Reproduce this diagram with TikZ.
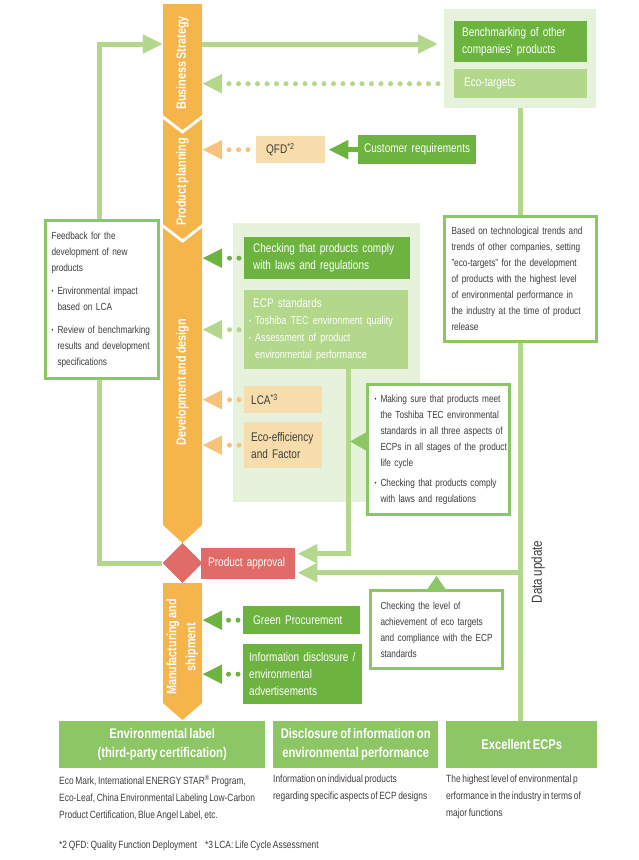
\documentclass[tikz,border=0pt]{standalone}
\usepackage{fontspec}
\setmainfont{Liberation Sans}[FakeStretch=0.8, WordSpace=0.72]
\usepackage{xcolor}
\usetikzlibrary{arrows.meta,shapes.geometric}

\definecolor{colorange}{HTML}{F5B54B}
\definecolor{dkgreen}{HTML}{6DB33F}
\definecolor{mdgreen}{HTML}{8DC665}
\definecolor{ltgreen}{HTML}{B3D78B}
\definecolor{bggreen}{HTML}{E6F2DC}
\definecolor{beige}{HTML}{F7DDAB}
\definecolor{ltorange}{HTML}{F8C27A}
\definecolor{apred}{HTML}{E06B68}
\definecolor{txtgray}{HTML}{3D3D3D}

\newcommand\smallfs{\fontsize{10.3pt}{16pt}\selectfont}
\newcommand\descfs{\fontsize{10.5pt}{17pt}\selectfont}
\newcommand\boxfs{\fontsize{12.5pt}{17pt}\selectfont}
\newcommand\ecpfs{\fontsize{11.3pt}{17pt}\selectfont}
\newcommand\colfs{\fontsize{13.5pt}{19pt}\selectfont\bfseries}
\newcommand\ttlfs{\fontsize{14pt}{19pt}\selectfont\bfseries}
\newcommand\bul{\makebox[6pt][l]{\raisebox{1pt}{\fontsize{7pt}{7pt}\selectfont\textbullet}}}
\newcommand\ind{\hspace*{6pt}}

\begin{document}
\begin{tikzpicture}[x=1pt, y=-1pt,
  bigtip/.style={-{Triangle[length=20pt,width=18pt]}},
  link/.style={draw=ltgreen, line width=5pt},
  flow/.style={link, bigtip},
  dotflow/.style={line width=5pt, line cap=round, dash pattern=on 0pt off 9.5pt, bigtip},
  box/.style={anchor=north west, inner xsep=8pt, inner ysep=0pt, align=left, font=\boxfs, text=white,
    execute at begin node={\rightskip=-20pt plus 1fil\relax}},
  dkbox/.style={box, fill=dkgreen},
  ltbox/.style={box, fill=ltgreen},
  bgbox/.style={box, fill=beige, text=txtgray},
  notebox/.style={box, draw=mdgreen, line width=3pt, fill=white, inner xsep=7pt, font=\smallfs, text=txtgray},
  area/.style={anchor=north west, fill=bggreen, inner sep=0pt},
  seg/.style={minimum width=39pt, inner sep=0pt},
  coltext/.style={rotate=90, text=white, font=\colfs, align=center},
  ttlbox/.style={anchor=north west, fill=mdgreen, text=white, font=\ttlfs, align=center, inner sep=0pt, minimum height=47pt},
  desctext/.style={anchor=north west, inner sep=0pt, align=left, font=\descfs, text=txtgray}]
\useasboundingbox (0,0) rectangle (638,860);

\fill[colorange] (163,4) -- (202,4) -- (202,115) -- (182.5,130) -- (163,115) -- cycle;
\fill[colorange] (163,119) -- (182.5,134) -- (202,119) -- (202,224) -- (182.5,239) -- (163,224) -- cycle;
\fill[colorange] (163,228) -- (182.5,243) -- (202,228) -- (202,525) -- (182.5,543) -- (163,525) -- cycle;
\fill[colorange] (163,583) -- (202,583) -- (202,703) -- (182.5,720) -- (163,703) -- cycle;
\node[seg, minimum height=111pt] (bs) at (182.5,59.5) {};
\node[seg, minimum height=105pt] (pp) at (182.5,171.5) {};
\node[seg, minimum height=297pt] (dd) at (182.5,376.5) {};
\node[seg, minimum height=120pt] (ms) at (182.5,643) {};
\node[coltext] (bsT) at (182.5,63) {Business Strategy};
\node[coltext] (ppT) at (182.5,182) {Product planning};
\node[coltext] (ddT) at (182.5,382) {Development and design};
\node[coltext] (msT) at (182.5,647) {Manufacturing and\\shipment};
\node[diamond, fill=apred, minimum width=40pt, minimum height=40pt, inner sep=0pt] (appr) at (182.5,563) {};
\node[box, fill=apred, minimum width=92pt, text width=80pt, inner xsep=7pt, minimum height=31pt] (pa) at (201,548) {Product approval};

\node[area, minimum width=152pt, minimum height=99pt] (targets) at (444,9) {};
\node[dkbox, minimum width=133pt, text width=117pt, minimum height=41pt] (bench) at (454,21) {Benchmarking of other\\companies' products};
\node[ltbox, minimum width=133pt, text width=113pt, inner xsep=10pt, minimum height=29pt] (eco) at (454,69) {Eco-targets};
\coordinate (fbtop) at (99,44);
\coordinate (ecoL) at (eco.west -| targets.west);
\draw[flow] (appr.west) -| (fbtop) -- (fbtop -| bs.west);
\draw[flow, shorten >=6pt] (fbtop -| bs.east) -- (fbtop -| targets.west);
\draw[dotflow, ltgreen] ([xshift=-6pt]ecoL) -- (ecoL -| bs.east);

\node[bgbox, minimum width=69pt, text width=49pt, inner xsep=10pt, minimum height=27pt] (qfd) at (256,136) {QFD\textsuperscript{*2}};
\node[dkbox, minimum width=116pt, text width=106pt, inner xsep=6pt, minimum height=29pt] (cust) at (358,135) {Customer requirements};
\draw[dkgreen, line width=5pt, bigtip, shorten >=3pt] (cust.west) -- (qfd.east);
\draw[dotflow, ltorange] ([xshift=-8pt]qfd.west) -- (qfd.west -| pp.east);

\node[area, minimum width=187pt, minimum height=279pt] (devarea) at (233,223) {};
\node[dkbox, minimum width=164pt, text width=148pt, inner xsep=9pt, minimum height=42pt] (laws) at (244,237) {Checking that products comply\\with laws and regulations};
\node[ltbox, minimum width=164pt, text width=154pt, inner xsep=5pt, minimum height=79pt] (ecp) at (244,290) {\hspace*{4pt}ECP standards\\\ecpfs\bul Toshiba TEC environment quality\\\bul Assessment of product\\\ind environmental performance};
\node[bgbox, minimum width=78pt, text width=64pt, inner xsep=7pt, minimum height=27pt] (lca) at (244,386) {LCA\textsuperscript{*3}};
\node[bgbox, minimum width=78pt, text width=64pt, inner xsep=7pt, minimum height=46pt] (ecoeff) at (244,422) {Eco-efficiency\\and Factor};
\draw[dotflow, dkgreen] ([xshift=-5pt]laws.west) -- (laws.west -| dd.east);
\draw[dotflow, ltgreen] ([xshift=-5pt]ecp.west) -- (ecp.west -| dd.east);
\draw[dotflow, ltorange] ([xshift=-5pt]lca.west) -- (lca.west -| dd.east);
\draw[dotflow, ltorange] ([xshift=-5pt]ecoeff.west) -- (ecoeff.west -| dd.east);

\node[dkbox, minimum width=117pt, text width=97pt, inner xsep=10pt, minimum height=28pt] (gp) at (243,606) {Green Procurement};
\node[dkbox, minimum width=117pt, text width=107pt, inner xsep=6pt, minimum height=60pt] (info) at (243,644) {Information disclosure /\\environmental\\advertisements};
\draw[dotflow, dkgreen] ([xshift=-5pt]gp.west) -- (gp.west -| ms.east);
\draw[dotflow, dkgreen] ([xshift=-5pt]info.west) -- (info.west -| ms.east);

\node[ttlbox, minimum width=206pt] (env) at (59,721) {Environmental label\\(third-party certification)};
\node[ttlbox, minimum width=165pt] (disc) at (273,721) {Disclosure of information on\\environmental performance};
\node[ttlbox, minimum width=151pt] (exc) at (446,721) {Excellent ECPs};

\coordinate (paA) at ([yshift=10pt]pa.east);
\coordinate (paB) at ([yshift=-9pt]pa.east);
\draw[flow, shorten >=2pt] ([xshift=22pt]ecp.south) |- (paA);
\draw[link] (targets.south) -- (targets.south |- exc.north);
\draw[flow, shorten >=2pt] (targets.south |- paB) -- (paB);
\node[rotate=90, font=\fontsize{14.5pt}{16pt}\selectfont, text=txtgray] (dupd) at (538,572) {Data update};

\node[notebox, minimum width=113pt, text width=101pt, inner xsep=6pt, minimum height=158pt] (fb) at (44,219) {Feedback for the\\development of new\\products\\[7pt]\bul Environmental impact\\\ind based on LCA\\[7pt]\bul Review of benchmarking\\\ind results and development\\\ind specifications};
\node[notebox, minimum width=152pt, text width=138pt, minimum height=125pt] (based) at (443,215) {Based on technological trends and\\trends of other companies, setting\\"eco-targets" for the development\\of products with the highest level\\of environmental performance in\\the industry at the time of product\\release};
\node[notebox, minimum width=142pt, text width=128pt, minimum height=130pt] (mk) at (366,383) {\bul Making sure that products meet\\\ind the Toshiba TEC environmental\\\ind standards in all three aspects of\\\ind ECPs in all stages of the product\\\ind life cycle\\[4pt]\bul Checking that products comply\\\ind with laws and regulations};
\node[notebox, minimum width=132pt, text width=112pt, inner xsep=10pt, minimum height=78pt] (chk) at (369,589) {Checking the level of\\achievement of eco targets\\and compliance with the ECP\\standards};
\fill[mdgreen] ([yshift=17pt]mk.west) -- ([xshift=-16pt,yshift=8pt]mk.west) -- ([yshift=-1pt]mk.west) -- cycle;
\fill[mdgreen] ([xshift=-9pt]chk.north) -- ([yshift=13pt]chk.north) -- ([xshift=9pt]chk.north) -- cycle;

\node[desctext] (envd) at (59,775) {Eco Mark, International ENERGY STAR\textsuperscript{®} Program,\\Eco-Leaf, China Environmental Labeling Low-Carbon\\Product Certification, Blue Angel Label, etc.};
\node[desctext] (discd) at (273,775) {Information on individual products\\regarding specific aspects of ECP designs};
\node[desctext] (excd) at (446,775) {The highest level of environmental p\\erformance in the industry in terms of\\major functions};
\node[desctext] (foot) at (59,841) {*2 QFD: Quality Function Deployment\hspace{8pt}*3 LCA: Life Cycle Assessment};
\end{tikzpicture}
\end{document}
